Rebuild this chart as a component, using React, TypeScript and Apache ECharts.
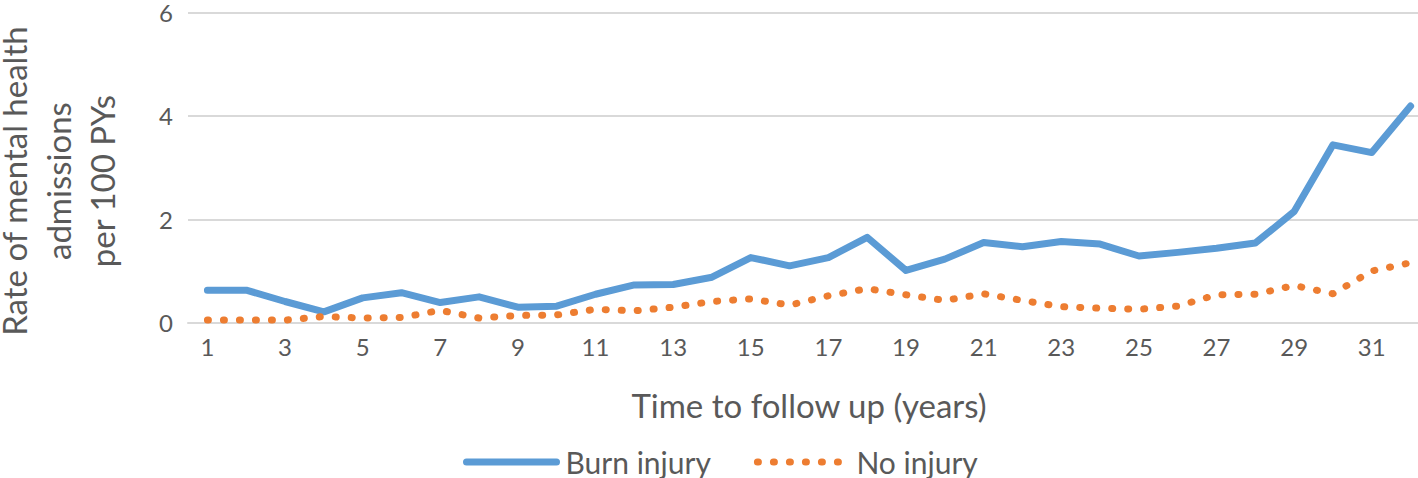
import React, { useEffect, useRef } from "react";
import * as echarts from "echarts";

const years = Array.from({ length: 32 }, (_, i) => String(i + 1));
const burnInjury = [0.63, 0.63, 0.41, 0.21, 0.48, 0.58, 0.39, 0.5, 0.3, 0.32, 0.55, 0.73, 0.74, 0.88, 1.26, 1.1, 1.26, 1.65, 1.01, 1.23, 1.55, 1.47, 1.57, 1.52, 1.29, 1.36, 1.44, 1.54, 2.15, 3.44, 3.29, 4.19];
const noInjury = [0.05, 0.05, 0.05, 0.12, 0.09, 0.1, 0.24, 0.09, 0.14, 0.15, 0.26, 0.23, 0.3, 0.41, 0.46, 0.34, 0.52, 0.66, 0.54, 0.43, 0.56, 0.43, 0.31, 0.28, 0.26, 0.32, 0.54, 0.55, 0.72, 0.56, 1.0, 1.16];
const seriesNames = ["Burn injury", "No injury"];
const xTitle = "Time to follow up (years)";
const yTitle = "Rate of mental health\nadmissions\nper 100 PYs";

const FONT = "Lato, 'Open Sans', sans-serif";
const TXT = "#595959";

export default function App() {
  const ref = useRef<HTMLDivElement>(null);
  useEffect(() => {
    if (!ref.current) return;
    const chart = echarts.init(ref.current, undefined, { renderer: "svg" });
    chart.setOption({
      animation: false,
      backgroundColor: "#ffffff",
      grid: { left: 188, right: -12, top: 12.5, bottom: 155.3, containLabel: false, outerBoundsMode: "none" },
      xAxis: {
        type: "category",
        data: years,
        boundaryGap: true,
        axisLine: { show: true, lineStyle: { color: "#D9D9D9", width: 2 } },
        axisTick: { show: false },
        axisLabel: { interval: 1, color: TXT, fontFamily: FONT, fontSize: 24, margin: 12 },
        name: xTitle,
        nameLocation: "middle",
        nameGap: 64,
        nameTextStyle: { color: TXT, fontFamily: FONT, fontSize: 33, lineHeight: 36 },
      },
      yAxis: {
        type: "value",
        min: 0,
        max: 6,
        interval: 2,
        axisLine: { show: false },
        axisTick: { show: false },
        splitLine: { lineStyle: { color: "#D9D9D9", width: 2 } },
        axisLabel: { color: TXT, fontFamily: FONT, fontSize: 24, lineHeight: 20, margin: 15 },
        name: yTitle,
        nameLocation: "middle",
        nameRotate: 90,
        nameGap: 64,
        nameTextStyle: { color: TXT, fontFamily: FONT, fontSize: 33, lineHeight: 44, padding: [0, 27, 0, 0] },
      },
      legend: {
        left: 463,
        top: 447,
        padding: 0,
        itemWidth: 90,
        itemHeight: 30,
        itemGap: 43,
        data: seriesNames,
        textStyle: { color: TXT, fontFamily: FONT, fontSize: 30, padding: [0, 0, 0, 4] },
        lineStyle: { width: "inherit" },
        itemStyle: { opacity: 0, color: "rgba(0,0,0,0)", borderWidth: 0 },
      },
      series: [
        {
          name: seriesNames[0],
          type: "line",
          data: burnInjury,
          symbol: "none",
          showSymbol: false,
          color: "#5B9BD5",
          lineStyle: { color: "#5B9BD5", width: 7, cap: "round", join: "round" },
        },
        {
          name: seriesNames[1],
          type: "line",
          data: noInjury,
          symbol: "none",
          showSymbol: false,
          color: "#ED7D31",
          lineStyle: { color: "#ED7D31", width: 7, type: [1, 15], cap: "round", join: "round" },
        },
      ],
    });
    return () => chart.dispose();
  }, []);
  return <div ref={ref} style={{ position: "absolute", left: 0, top: 0, width: 1418, height: 478 }} />;
}
